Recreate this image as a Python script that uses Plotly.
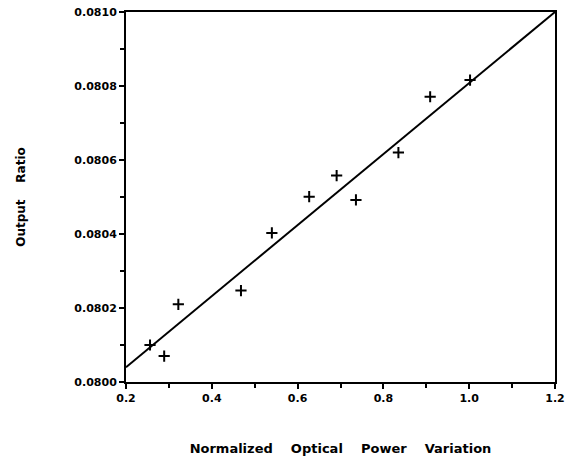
import plotly.graph_objects as go

power = [0.256, 0.289, 0.322, 0.468, 0.540, 0.627, 0.691, 0.736, 0.835, 0.909, 1.002]
ratio = [0.080100, 0.080070, 0.080210, 0.080247, 0.080403, 0.080501, 0.080558, 0.080492, 0.080620, 0.080771, 0.080816]
fit_x = [0.2, 1.2]
fit_y = [0.08004, 0.08100]

fig = go.Figure()
fig.add_trace(go.Scatter(x=fit_x, y=fit_y, mode="lines",
                         line=dict(color="black", width=2), showlegend=False))
fig.add_trace(go.Scatter(x=power, y=ratio, mode="markers",
                         marker=dict(symbol="cross-thin", size=8,
                                     line=dict(color="black", width=2)),
                         showlegend=False))

font = "DejaVu Sans, sans-serif"
sp = "&nbsp;" * 4
fig.update_layout(
    width=572, height=458,
    margin=dict(l=126, r=17, t=12, b=76),
    plot_bgcolor="white", paper_bgcolor="white",
    font=dict(family=font, color="black", size=12),
    xaxis=dict(range=[0.2, 1.2], tickvals=[0.2, 0.4, 0.6, 0.8, 1.0, 1.2],
               ticktext=["0.2", "0.4", "0.6", "0.8", "1.0", "1.2"],
               ticks="outside", ticklen=5, tickwidth=2, tickcolor="black",
               minor=dict(dtick=0.1, ticks="outside", ticklen=4, tickwidth=2, tickcolor="black"),
               showline=True, linecolor="black", linewidth=2, mirror=True,
               showgrid=False, zeroline=False, automargin=False,
               tickfont=dict(size=11, family=font, weight="bold"),
               title=dict(text="<b>Normalized" + sp + "Optical" + sp + "Power" + sp + "Variation</b>",
                          font=dict(size=13), standoff=40)),
    yaxis=dict(range=[0.0800, 0.0810], tickvals=[0.0800, 0.0802, 0.0804, 0.0806, 0.0808, 0.0810],
               ticktext=["0.0800", "0.0802", "0.0804", "0.0806", "0.0808", "0.0810"],
               ticks="outside", ticklen=5, tickwidth=2, tickcolor="black",
               minor=dict(dtick=0.0001, ticks="outside", ticklen=4, tickwidth=2, tickcolor="black"),
               showline=True, linecolor="black", linewidth=2, mirror=True,
               showgrid=False, zeroline=False, automargin=False,
               tickfont=dict(size=11, family=font, weight="bold"),
               title=dict(text="<b>Output" + sp + "Ratio</b>", font=dict(size=12), standoff=46)),
)
fig.write_html("out.html")
